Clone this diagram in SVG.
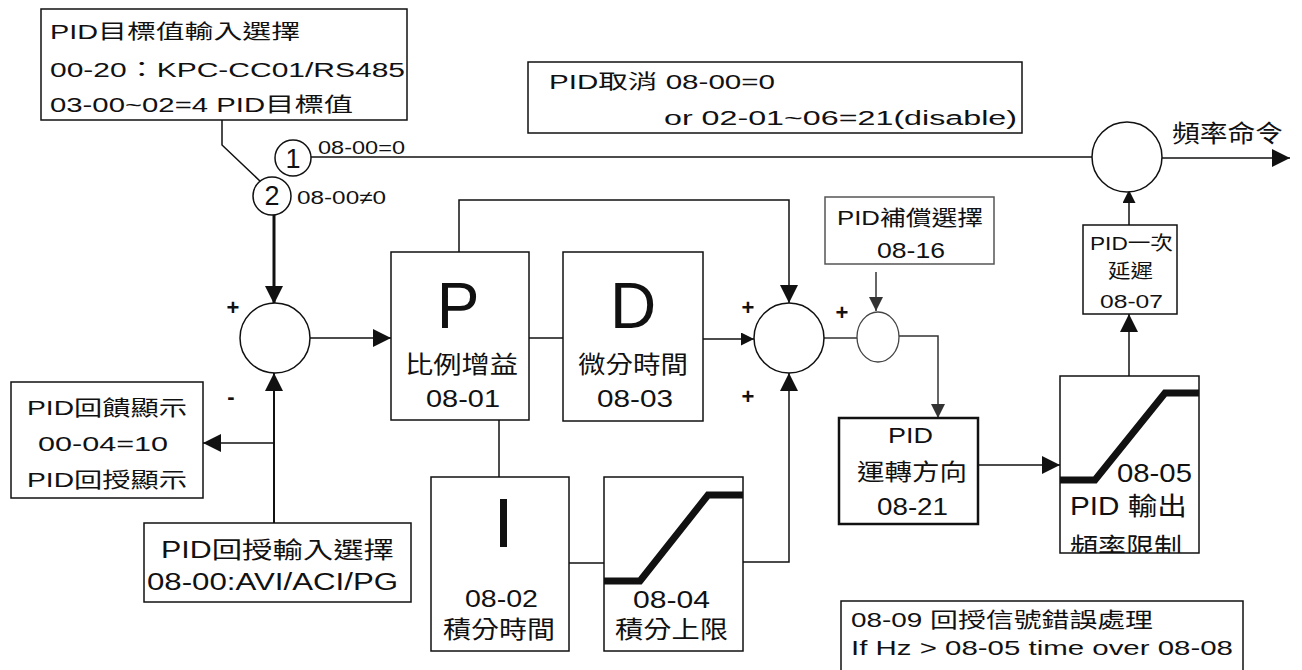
<svg xmlns="http://www.w3.org/2000/svg" width="1302" height="670" viewBox="0 0 1302 670">
<style>
.t{font-family:"Liberation Sans","Noto Sans CJK TC",sans-serif;fill:#111;}
.box{fill:#fff;stroke:#111;stroke-width:1.5;}
.gbox{fill:#fff;stroke:#555;stroke-width:1.5;}
.ln{fill:none;stroke:#111;stroke-width:1.5;}
.gl{fill:none;stroke:#333;stroke-width:1.5;}
.circ{fill:#fff;stroke:#111;stroke-width:1.5;}
.curve{fill:none;stroke:#111;stroke-width:7;}
</style>
<defs>
<marker id="ah" markerWidth="18" markerHeight="18" refX="18" refY="9" orient="auto" markerUnits="userSpaceOnUse"><path d="M0,0 L18,9 L0,18 z" fill="#111"/></marker>
<marker id="as" markerWidth="13" markerHeight="13" refX="13" refY="6.5" orient="auto" markerUnits="userSpaceOnUse"><path d="M0,0 L13,6.5 L0,13 z" fill="#111"/></marker>
<marker id="ag" markerWidth="14" markerHeight="14" refX="14" refY="7" orient="auto" markerUnits="userSpaceOnUse"><path d="M0,0 L14,7 L0,14 z" fill="#333"/></marker>
<clipPath id="limClip"><rect x="1060" y="376" width="139" height="177"/></clipPath>
</defs>

<g id="connectors">
<path class="ln" d="M222,120 V145 L261,182"/>
<path class="ln" d="M311,157 H1092"/>
<path class="ln" d="M1162,158 H1290" marker-end="url(#ah)"/>
<path fill="none" stroke="#111" stroke-width="3" d="M274,215 V304" marker-end="url(#ah)"/>
<path class="ln" d="M310,338 H391" marker-end="url(#ah)"/>
<path fill="none" stroke="#111" stroke-width="2" d="M274,523 V373" marker-end="url(#ah)"/>
<path class="ln" d="M274,443 H203" marker-end="url(#ah)"/>
<path class="ln" d="M459,252 V200 H789 V303" marker-end="url(#ah)"/>
<path class="ln" d="M529,338 H563"/>
<path class="ln" d="M703,339 H754" marker-end="url(#as)"/>
<path class="ln" d="M499,420 V477"/>
<path class="ln" d="M569,563 H604"/>
<path class="ln" d="M743,562 H789 V373" marker-end="url(#ah)"/>
<path class="gl" d="M824,338 H857"/>
<path class="gl" d="M876,272 V311" marker-end="url(#ag)"/>
<path class="gl" d="M899,336 H938 V418" marker-end="url(#ag)"/>
<path class="ln" d="M978,465 H1060" marker-end="url(#ah)"/>
<path class="ln" d="M1129,376 V314" marker-end="url(#ah)"/>
<path class="ln" d="M1129,225 V190" marker-end="url(#as)"/>
</g>

<g id="target-select">
<rect class="box" x="41" y="9" width="366" height="111"/>
<text class="t" x="50" y="39" font-size="20" textLength="250" lengthAdjust="spacingAndGlyphs">PID目標值輸入選擇</text>
<text class="t" x="50" y="77" font-size="20" textLength="355" lengthAdjust="spacingAndGlyphs">00-20：KPC-CC01/RS485</text>
<text class="t" x="50" y="112" font-size="20" textLength="303" lengthAdjust="spacingAndGlyphs">03-00~02=4 PID目標值</text>
</g>

<g id="switch1">
<circle class="circ" cx="293" cy="158" r="18"/>
<text class="t" x="293" y="168" font-size="27" text-anchor="middle">1</text>
<text class="t" x="318" y="154" font-size="19" textLength="87" lengthAdjust="spacingAndGlyphs">08-00=0</text>
</g>

<g id="switch2">
<circle class="circ" cx="272" cy="196" r="19"/>
<text class="t" x="272" y="205" font-size="27" text-anchor="middle">2</text>
<text class="t" x="297" y="204" font-size="19" textLength="89" lengthAdjust="spacingAndGlyphs">08-00≠0</text>
</g>

<g id="pid-cancel">
<rect class="box" x="528" y="62" width="494" height="71"/>
<text class="t" x="549" y="89" font-size="20" textLength="226" lengthAdjust="spacingAndGlyphs">PID取消 08-00=0</text>
<text class="t" x="664" y="125" font-size="20" textLength="353" lengthAdjust="spacingAndGlyphs">or 02-01~06=21(disable)</text>
</g>

<g id="freq-sum">
<circle class="circ" cx="1127" cy="157" r="35"/>
<text class="t" x="1172" y="142" font-size="24" textLength="111" lengthAdjust="spacingAndGlyphs">頻率命令</text>
</g>

<g id="delay">
<rect class="box" x="1083" y="225" width="94" height="89"/>
<text class="t" x="1090" y="250" font-size="19" textLength="83" lengthAdjust="spacingAndGlyphs">PID一次</text>
<text class="t" x="1108" y="278" font-size="19" textLength="45" lengthAdjust="spacingAndGlyphs">延遲</text>
<text class="t" x="1100" y="308" font-size="19" textLength="63" lengthAdjust="spacingAndGlyphs">08-07</text>
</g>

<g id="left-sum">
<circle class="circ" cx="275" cy="338" r="35"/>
<text class="t" x="233" y="315" font-size="22" font-weight="bold" text-anchor="middle">+</text>
<text class="t" x="231" y="404" font-size="22" font-weight="bold" text-anchor="middle">-</text>
</g>

<g id="p-block">
<rect class="box" x="391" y="252" width="138" height="168"/>
<text class="t" x="458" y="328" font-size="64" text-anchor="middle">P</text>
<text class="t" x="405" y="373" font-size="24" textLength="113" lengthAdjust="spacingAndGlyphs">比例增益</text>
<text class="t" x="426" y="407" font-size="24" textLength="74" lengthAdjust="spacingAndGlyphs">08-01</text>
</g>

<g id="d-block">
<rect class="box" x="563" y="252" width="140" height="169"/>
<text class="t" x="633" y="328" font-size="64" text-anchor="middle">D</text>
<text class="t" x="578" y="373" font-size="24" textLength="110" lengthAdjust="spacingAndGlyphs">微分時間</text>
<text class="t" x="597" y="407" font-size="24" textLength="76" lengthAdjust="spacingAndGlyphs">08-03</text>
</g>

<g id="i-block">
<rect class="box" x="431" y="477" width="138" height="174"/>
<rect x="500" y="499" width="7" height="48" fill="#111"/>
<text class="t" x="465" y="607" font-size="23" textLength="73" lengthAdjust="spacingAndGlyphs">08-02</text>
<text class="t" x="443" y="638" font-size="24" textLength="112" lengthAdjust="spacingAndGlyphs">積分時間</text>
</g>

<g id="i-limit">
<rect class="box" x="604" y="477" width="139" height="174"/>
<path class="curve" d="M604,581 H640 L708,495 H743"/>
<text class="t" x="633" y="608" font-size="23" textLength="77" lengthAdjust="spacingAndGlyphs">08-04</text>
<text class="t" x="615" y="638" font-size="24" textLength="113" lengthAdjust="spacingAndGlyphs">積分上限</text>
</g>

<g id="right-sum">
<circle class="circ" cx="789" cy="338" r="35"/>
<text class="t" x="748" y="315" font-size="22" font-weight="bold" text-anchor="middle">+</text>
<text class="t" x="748" y="404" font-size="22" font-weight="bold" text-anchor="middle">+</text>
<text class="t" x="842" y="320" font-size="22" font-weight="bold" text-anchor="middle">+</text>
</g>

<g id="comp-select">
<rect class="gbox" x="825" y="197" width="169" height="67"/>
<text class="t" x="837" y="225" font-size="21" textLength="146" lengthAdjust="spacingAndGlyphs">PID補償選擇</text>
<text class="t" x="877" y="258" font-size="22" textLength="68" lengthAdjust="spacingAndGlyphs">08-16</text>
</g>

<g id="comp-sum">
<ellipse cx="878" cy="337" rx="21" ry="25" fill="#fff" stroke="#444" stroke-width="1.3"/>
</g>

<g id="direction">
<rect x="839" y="418" width="139" height="106" fill="#fff" stroke="#111" stroke-width="2.5"/>
<text class="t" x="888" y="443" font-size="22" textLength="45" lengthAdjust="spacingAndGlyphs">PID</text>
<text class="t" x="857" y="480" font-size="23" textLength="110" lengthAdjust="spacingAndGlyphs">運轉方向</text>
<text class="t" x="877" y="515" font-size="23" textLength="71" lengthAdjust="spacingAndGlyphs">08-21</text>
</g>

<g id="out-limit">
<rect class="box" x="1060" y="376" width="139" height="177"/>
<path class="curve" d="M1060,480 H1095 L1165,393 H1199"/>
<text class="t" x="1117" y="482" font-size="25" textLength="75" lengthAdjust="spacingAndGlyphs">08-05</text>
<text class="t" x="1070" y="515" font-size="25" textLength="117" lengthAdjust="spacingAndGlyphs">PID 輸出</text>
<g clip-path="url(#limClip)">
<text class="t" x="1070" y="556" font-size="25" textLength="112" lengthAdjust="spacingAndGlyphs">頻率限制</text>
</g>
</g>

<g id="fb-display">
<rect class="box" x="11" y="382" width="192" height="116"/>
<text class="t" x="27" y="415" font-size="21" textLength="160" lengthAdjust="spacingAndGlyphs">PID回饋顯示</text>
<text class="t" x="38" y="451" font-size="21" textLength="130" lengthAdjust="spacingAndGlyphs">00-04=10</text>
<text class="t" x="27" y="487" font-size="21" textLength="160" lengthAdjust="spacingAndGlyphs">PID回授顯示</text>
</g>

<g id="fb-select">
<rect class="box" x="144" y="523" width="267" height="79"/>
<text class="t" x="161" y="558" font-size="23" textLength="233" lengthAdjust="spacingAndGlyphs">PID回授輸入選擇</text>
<text class="t" x="147" y="590" font-size="23" textLength="251" lengthAdjust="spacingAndGlyphs">08-00:AVI/ACI/PG</text>
</g>

<g id="fb-error">
<path class="ln" d="M841,670 V601 H1243 V670"/>
<text class="t" x="851" y="627" font-size="21" textLength="302" lengthAdjust="spacingAndGlyphs">08-09 回授信號錯誤處理</text>
<text class="t" x="851" y="655" font-size="21" textLength="382" lengthAdjust="spacingAndGlyphs">If Hz &gt; 08-05 time over 08-08</text>
</g>
</svg>
